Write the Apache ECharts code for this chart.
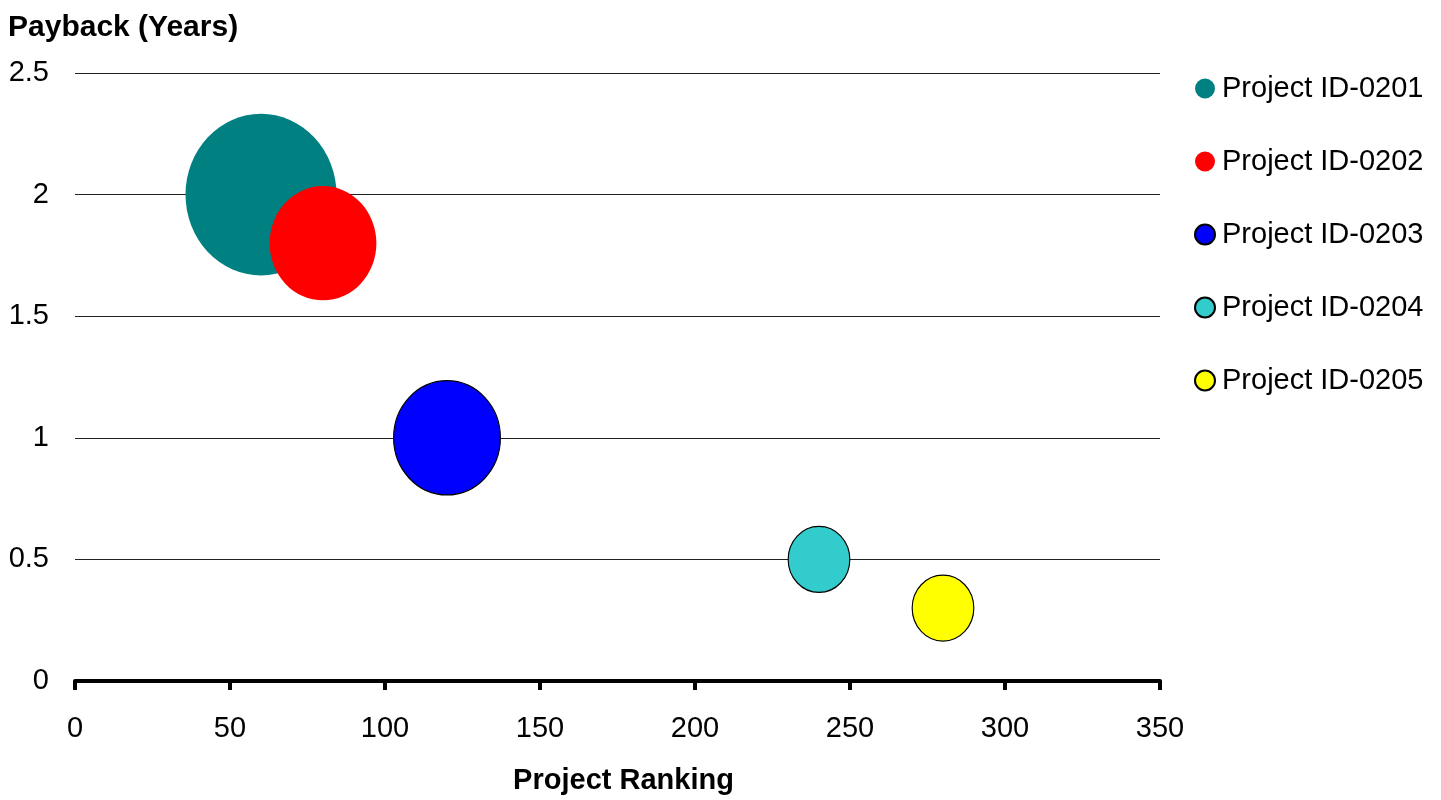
<!DOCTYPE html>
<html>
<head>
<meta charset="utf-8">
<script src="https://cdn.jsdelivr.net/npm/echarts@6/dist/echarts.min.js"></script>
<style>
  html, body { margin: 0; padding: 0; background: #fff; }
  #chart { width: 1441px; height: 800px; }
</style>
</head>
<body>
<div id="chart"></div>
<script>
// ---- Data ----
const projectNames = ['Project ID-0201', 'Project ID-0202', 'Project ID-0203', 'Project ID-0204', 'Project ID-0205'];
const projectRanking = [60, 80, 120, 240, 280];
const paybackYears = [2.0, 1.8, 1.0, 0.5, 0.3];
const bubbleSizes = [30, 15, 15, 5, 5];
const xTicks = [0, 50, 100, 150, 200, 250, 300, 350];
const yTicks = [0, 0.5, 1, 1.5, 2, 2.5];

// ---- Styles ----
const colors = ['#008080', '#FF0000', '#0000FF', '#33CCCC', '#FFFF00'];
const bordered = [false, false, true, true, true];
const FONT = "'Liberation Sans', Arial, sans-serif";
const maxSize = Math.max(...bubbleSizes);
function bubbleDims(v) {
  const w = 151 * Math.sqrt(v / maxSize);
  return [w, w * 1.07];
}

const series = projectNames.map((name, i) => ({
  name: name,
  type: 'scatter',
  symbol: 'circle',
  data: [[projectRanking[i], paybackYears[i], bubbleSizes[i]]],
  symbolSize: function (d) { return bubbleDims(d[2]); },
  itemStyle: {
    color: colors[i],
    opacity: 1,
    borderColor: '#000',
    borderWidth: bordered[i] ? 1.2 : 0
  },
  emphasis: { disabled: true },
  z: 2 + i
}));

const chart = echarts.init(document.getElementById('chart'), null, { renderer: 'canvas' });
chart.setOption({
  animation: false,
  backgroundColor: '#fff',
  title: {
    text: 'Payback (Years)',
    left: 8,
    top: 13,
    padding: 0,
    textStyle: { fontFamily: FONT, fontSize: 30, fontWeight: 'bold', color: '#000', lineHeight: 30 }
  },
  grid: { left: 75, right: 281, top: 73, bottom: 119, containLabel: false },
  legend: {
    orient: 'vertical',
    left: 1194,
    top: 74,
    padding: 0,
    itemWidth: 20,
    itemHeight: 20,
    itemGap: 44,
    icon: 'circle',
    textStyle: { fontFamily: FONT, fontSize: 29, color: '#000', lineHeight: 29, padding: [0, 0, 0, 2] },
    data: projectNames
  },
  xAxis: {
    type: 'value',
    min: xTicks[0],
    max: xTicks[xTicks.length - 1],
    interval: 50,
    name: 'Project Ranking',
    nameLocation: 'middle',
    nameGap: 85,
    nameTextStyle: { fontFamily: FONT, fontSize: 29, fontWeight: 'bold', color: '#000', padding: [0, 0, 0, 12] },
    axisLine: { show: true, onZero: false, lineStyle: { color: '#000', width: 4 } },
    axisTick: { show: true, length: 9, lineStyle: { color: '#000', width: 4 } },
    axisLabel: { fontFamily: FONT, fontSize: 29, color: '#000', margin: 33 },
    splitLine: { show: false }
  },
  yAxis: {
    type: 'value',
    min: yTicks[0],
    max: yTicks[yTicks.length - 1],
    interval: 0.5,
    axisLine: { show: false },
    axisTick: { show: false },
    axisLabel: { fontFamily: FONT, fontSize: 29, color: '#000', margin: 26 },
    splitLine: { show: true, lineStyle: { color: '#222', width: 1.2 } }
  },
  series: series
});
</script>
</body>
</html>
